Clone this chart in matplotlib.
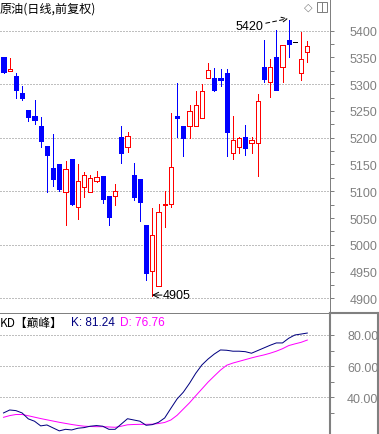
"""
原油日线K线图 + KD指标
"""
import numpy as np
import matplotlib.pyplot as plt
from matplotlib.lines import Line2D
from matplotlib.patches import Rectangle

W, H = 379, 435

opens = [5351, 5325, 5315, 5284, 5252, 5241, 5222, 5185, 5143, 5151,
         5099, 5160, 5070, 5108, 5099, 5120, 5129, 5092, 5092, 5201,
         5182, 5131, 5122, 5037, 4951, 4923, 5075, 5077, 5240, 5221,
         5221, 5221, 5236, 5311, 5312, 5312, 5321, 5171, 5183, 5201,
         5190, 5191, 5332, 5305, 5351, 5332, 5383, 5378, 5320, 5361]
closes = [5323, 5328, 5290, 5275, 5239, 5234, 5194, 5168, 5123, 5104,
          5141, 5076, 5119, 5130, 5125, 5126, 5085, 5052, 5100, 5171,
          5203, 5090, 5080, 4948, 5018, 5061, 5077, 5145, 5237, 5199,
          5249, 5261, 5287, 5327, 5290, 5307, 5211, 5196, 5199, 5181,
          5196, 5268, 5310, 5333, 5290, 5373, 5376, 5378, 5347, 5371]
highs = [5351, 5349, 5321, 5297, 5252, 5270, 5238, 5185, 5207, 5151,
         5156, 5160, 5151, 5136, 5130, 5138, 5129, 5092, 5113, 5222,
         5210, 5153, 5122, 5037, 5068, 5077, 5101, 5246, 5302, 5221,
         5261, 5287, 5301, 5339, 5330, 5328, 5328, 5241, 5201, 5224,
         5201, 5282, 5383, 5348, 5402, 5373, 5420, 5378, 5398, 5380]
lows = [5320, 5325, 5274, 5270, 5232, 5226, 5183, 5099, 5110, 5101,
        5036, 5074, 5048, 5090, 5099, 5118, 5078, 5037, 5074, 5152,
        5174, 5084, 5045, 4935, 4905, 4923, 5034, 5070, 5201, 5165,
        5200, 5221, 5236, 5311, 5288, 5296, 5165, 5161, 5171, 5168,
        5171, 5129, 5304, 5277, 5290, 5305, 5351, 5378, 5308, 5342]

k_vals = [30.0, 31.9, 31.5, 30.0, 26.2, 24.7, 21.7, 22.3, 20.4, 18.5,
          19.5, 19.1, 20.2, 20.6, 21.5, 21.9, 21.5, 19.5, 19.5, 22.9,
          26.3, 25.5, 24.7, 22.1, 22.5, 24.0, 26.8, 33.0, 39.0, 43.3,
          49.0, 55.4, 60.8, 64.6, 67.8, 70.4, 70.2, 69.6, 69.6, 69.3,
          68.3, 70.0, 71.7, 73.4, 74.9, 74.9, 77.9, 80.0, 80.6, 81.24]
d_vals = [27.2, 28.3, 29.0, 29.0, 28.2, 27.3, 26.4, 25.6, 24.8, 24.0,
          23.3, 22.6, 22.0, 21.5, 21.3, 21.2, 21.2, 21.0, 20.8, 21.5,
          22.4, 22.6, 22.7, 22.7, 22.8, 23.2, 23.9, 25.5, 28.5, 32.5,
          36.5, 41.0, 45.4, 49.8, 53.7, 57.5, 60.6, 62.0, 63.1, 64.2,
          65.3, 66.3, 67.2, 68.3, 69.6, 71.2, 73.2, 74.3, 75.3, 76.76]

price_ticks = list(range(4900, 5401, 50))
price_minor = list(range(4925, 5400, 50))
price_grid = list(range(4900, 5401, 100))
kd_ticks = [40, 60, 80]
kd_minor = [30, 50, 70]

GRAY = '#808080'
RED = '#FF0000'
BLUE = '#0000FF'
PX = 0.72  # 1 pixel in points at dpi 100
CJK = ['Noto Sans CJK SC', 'DejaVu Sans']
NUM = ['Liberation Sans', 'DejaVu Sans']


def fx(x):
    return x / W


def fy(y):
    return 1 - y / H


fig = plt.figure(figsize=(W / 100, H / 100), dpi=100)
fig.patch.set_facecolor('white')

split = 314
ax = fig.add_axes([0, fy(split), 330 / W, split / H])
ax2 = fig.add_axes([0, 0, 330 / W, (H - split) / H])

xlim = (-0.565, 52.66)

# --- 主图 K线 ---
n = len(opens)
x = np.arange(n)
for i in x:
    o, c, h, l = opens[i], closes[i], highs[i], lows[i]
    if c > o:
        ax.vlines(i, l, h, color=RED, lw=PX, zorder=2, antialiased=False)
        ax.bar(i, c - o, bottom=o, width=0.66, facecolor='white',
               edgecolor=RED, linewidth=PX, zorder=3, antialiased=False)
    elif c < o:
        ax.vlines(i, l, h, color=BLUE, lw=PX, zorder=2, antialiased=False)
        ax.bar(i, o - c, bottom=c, width=0.66, facecolor=BLUE,
               edgecolor=BLUE, linewidth=PX, zorder=3, antialiased=False)
    else:
        ax.hlines(o, i - 0.33, i + 0.33, color='black', lw=PX, zorder=3,
                  antialiased=False)

for p in price_grid:
    ax.axhline(p, color=GRAY, lw=PX, linestyle=(0, (1, 2)), zorder=1)

ax.set_xlim(*xlim)
ax.set_ylim(4872.5, 5459.2)
ax.set_xticks([])
ax.yaxis.tick_right()
ax.set_yticks(price_ticks)
ax.set_yticks(price_minor, minor=True)
ax.tick_params(axis='y', which='both', direction='out', length=4 * PX,
               width=PX, color=GRAY, labelcolor=GRAY, pad=11.5,
               labelsize=9, labelfontfamily='Liberation Sans')
for side in ['top', 'left', 'bottom']:
    ax.spines[side].set_visible(False)
ax.spines['right'].set_color(GRAY)
ax.spines['right'].set_linewidth(PX)

# 最高/最低点标注
hi_i = int(np.argmax(highs))
lo_i = int(np.argmin(lows))
ax.text(41.85, 5409, f'{highs[hi_i]}', ha='right', va='center',
        fontsize=9, family=NUM, color='black')
ax.annotate('', xy=(hi_i - 0.1, 5422.5), xytext=(42.3, 5414),
            arrowprops=dict(arrowstyle='->', lw=PX, color='black',
                            linestyle=(0, (4, 3)), shrinkA=0, shrinkB=0))
ax.text(25.7, 4906, f'{lows[lo_i]}', ha='left', va='center',
        fontsize=9, family=NUM, color='black')
ax.annotate('', xy=(lo_i - 0.05, 4906), xytext=(25.55, 4906),
            arrowprops=dict(arrowstyle='->', lw=PX, color='black',
                            shrinkA=0, shrinkB=0))

fig.text(fx(0), fy(9), '原油(日线,前复权)', ha='left', va='center',
         fontsize=8.7, family=CJK, color='black')

# 右上角图标
fig.text(fx(308), fy(8), '◇', ha='center', va='center', fontsize=8,
         family='DejaVu Sans', color=GRAY)
fig.add_artist(Rectangle((fx(317), fy(12.5)), 10 / W, 9.5 / H,
                         transform=fig.transFigure, fill=False,
                         edgecolor=GRAY, lw=PX))
fig.add_artist(Line2D([fx(322), fx(322)], [fy(12.5), fy(3)],
                      color=GRAY, lw=PX))

# --- KD副图 ---
ax2.plot(x, k_vals, color='#000080', lw=PX, zorder=3)
ax2.plot(x, d_vals, color='#FF00FF', lw=PX, zorder=2)
for v in kd_ticks:
    ax2.axhline(v, color=GRAY, lw=PX, linestyle=(0, (1, 2)), zorder=1)

ax2.set_xlim(*xlim)
ax2.set_ylim(16.5, 94.1)
ax2.set_xticks([])
ax2.yaxis.tick_right()
ax2.set_yticks(kd_ticks)
ax2.set_yticklabels([f'{v:.2f}' for v in kd_ticks])
ax2.set_yticks(kd_minor, minor=True)
ax2.tick_params(axis='y', which='both', direction='out', length=4 * PX,
                width=PX, color=GRAY, labelcolor=GRAY, pad=9.4,
                labelsize=9, labelfontfamily='Liberation Sans')
for side in ['top', 'left', 'bottom']:
    ax2.spines[side].set_visible(False)
ax2.spines['right'].set_color(GRAY)
ax2.spines['right'].set_linewidth(1.5)

fig.add_artist(Line2D([0, fx(378)], [fy(split), fy(split)],
                      color=GRAY, lw=PX))
fig.add_artist(Line2D([fx(330), fx(378)], [fy(split), fy(split)],
                      color=GRAY, lw=1.5))
fig.add_artist(Line2D([fx(378), fx(378)], [fy(split), 0],
                      color=GRAY, lw=1.5))

fig.text(fx(0), fy(323), 'KD【巅峰】', ha='left', va='center',
         fontsize=8.5, family=CJK, color='black')
fig.text(fx(71), fy(323), f'K: {k_vals[-1]:.2f}', ha='left', va='center',
         fontsize=8.5, family=NUM, color='#000080')
fig.text(fx(120), fy(323), f'D: {d_vals[-1]:.2f}', ha='left', va='center',
         fontsize=8.5, family=NUM, color='#FF00FF')

fig.savefig('out.png', dpi=100)
